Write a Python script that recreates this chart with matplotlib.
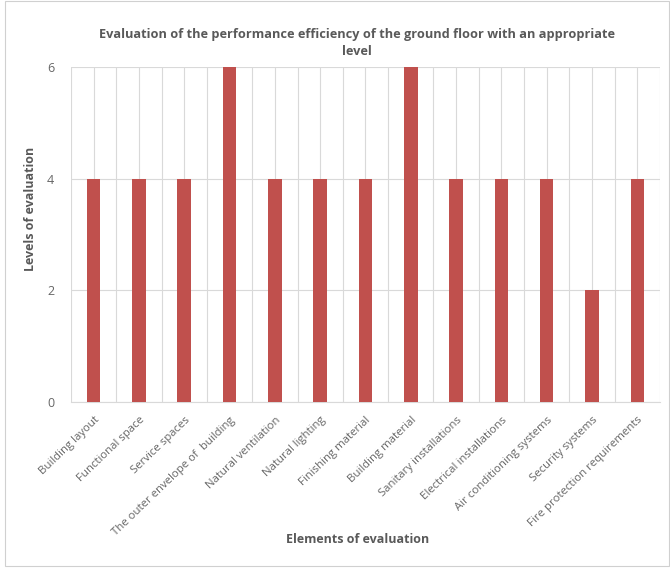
import matplotlib.pyplot as plt
import numpy as np
from matplotlib.patches import Rectangle

categories = ['Building layout', 'Functional space', 'Service spaces',
              'The outer envelope of  building', 'Natural ventilation',
              'Natural lighting', 'Finishing material', 'Building material',
              'Sanitary installations', 'Electrical installations',
              'Air conditioning systems', 'Security systems',
              'Fire protection requirements']
levels = [4, 4, 4, 6, 4, 4, 4, 6, 4, 4, 4, 2, 4]
yticks = [0, 2, 4, 6]

plt.rcParams['font.family'] = ['Open Sans', 'DejaVu Sans']
txt = '#595959'
grid = '#D9D9D9'

fig = plt.figure(figsize=(6.7, 5.68), dpi=100)
ax = fig.add_axes([0.106, 0.292, 0.879, 0.59])

x = np.arange(len(categories))
ax.bar(x, levels, width=0.3, color='#C0504D', zorder=3)

ax.set_xlim(-0.5, len(categories) - 0.5)
ax.set_ylim(0, 6)
ax.set_yticks(yticks)
ax.set_xticks(x)
ax.set_xticklabels(categories, rotation=44, ha='right', rotation_mode='anchor',
                   fontsize=8.2, color='#666666')
ax.set_xticks(np.arange(-0.5, len(categories), 1.0), minor=True)
ax.tick_params(axis='y', labelsize=9, colors='#666666', length=0, pad=12)
ax.tick_params(axis='x', which='both', length=0, pad=9)
ax.grid(axis='y', color=grid, lw=0.8, zorder=0)
ax.grid(axis='x', which='both', color=grid, lw=0.8, zorder=0)
for s in ['top', 'right', 'left']:
    ax.spines[s].set_visible(False)
ax.spines['bottom'].set_color(grid)

ax.set_title('Evaluation of the performance efficiency of the ground floor with an appropriate\nlevel',
             fontsize=9.2, fontweight='bold', color=txt, pad=9, linespacing=1.35, x=0.486)
ax.set_ylabel('Levels of evaluation', fontsize=9, fontweight='bold', color=txt)
ax.set_xlabel('Elements of evaluation', fontsize=9, fontweight='bold', color=txt)
ax.yaxis.set_label_coords(-0.058, 0.576)
ax.xaxis.set_label_coords(0.486, -0.391)

fig.patches.append(Rectangle((0.008, 0.004), 0.99, 0.994, transform=fig.transFigure,
                             fill=False, edgecolor='#D0D0D0', lw=0.8))

fig.savefig('out.png', dpi=100)
